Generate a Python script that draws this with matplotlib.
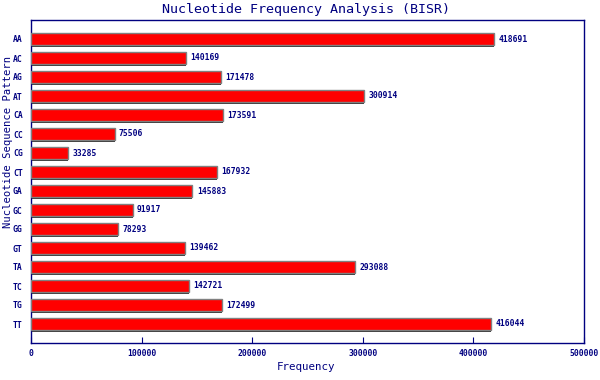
import numpy as np
import matplotlib
matplotlib.use("Agg")
import matplotlib.pyplot as plt

patterns = ['AA', 'AC', 'AG', 'AT', 'CA', 'CC', 'CG', 'CT',
            'GA', 'GC', 'GG', 'GT', 'TA', 'TC', 'TG', 'TT']
counts = [418691, 140169, 171478, 300914, 173591, 75506, 33285, 167932,
          145883, 91917, 78293, 139462, 293088, 142721, 172499, 416044]

navy = '#000080'
plt.rcParams['font.family'] = ['DejaVu Sans Mono']

fig = plt.figure(figsize=(6, 3.8), dpi=100)
ax = fig.add_axes([31/600, 1 - 343/380, 553/600, 323/380])

y = np.arange(len(patterns))
# shadow under each bar
ax.barh(y + 0.12, counts, height=0.6, color='#383838', zorder=2)
ax.barh(y, counts, height=0.6, color='#ff0000', edgecolor='#808080',
        linewidth=1, zorder=3)

for yi, c in zip(y, counts):
    ax.text(c + 4000, yi, str(c), va='center', ha='left', fontsize=5.8,
            color=navy, fontweight='bold')

ax.set_xlim(0, 500000)
ax.set_ylim(16, -1)
ax.set_yticks(y)
ax.set_yticklabels(patterns)
ax.set_xticks([0, 100000, 200000, 300000, 400000, 500000])
ax.set_xticklabels(['0', '100000', '200000', '300000', '400000', '500000'])

ax.tick_params(axis='x', direction='in', length=4, color=navy, labelcolor=navy,
               labelsize=5.8, pad=4)
ax.tick_params(axis='y', length=0, labelcolor=navy, labelsize=5.8, pad=6)
for lab in ax.get_xticklabels() + ax.get_yticklabels():
    lab.set_fontweight('bold')
for s in ax.spines.values():
    s.set_color(navy)
    s.set_linewidth(1)

fig.text(306/600, 1 - 367/380, 'Frequency', color=navy, fontsize=7.8,
         ha='center', va='center')
fig.text(8/600, 1 - 142/380, 'Nucleotide Sequence Pattern', color=navy,
         fontsize=7.6, ha='center', va='center', rotation=90)
fig.text(306/600, 1 - 9/380, 'Nucleotide Frequency Analysis (BISR)',
         color=navy, fontsize=9.6, ha='center', va='center')

fig.savefig('out.png', dpi=100)
